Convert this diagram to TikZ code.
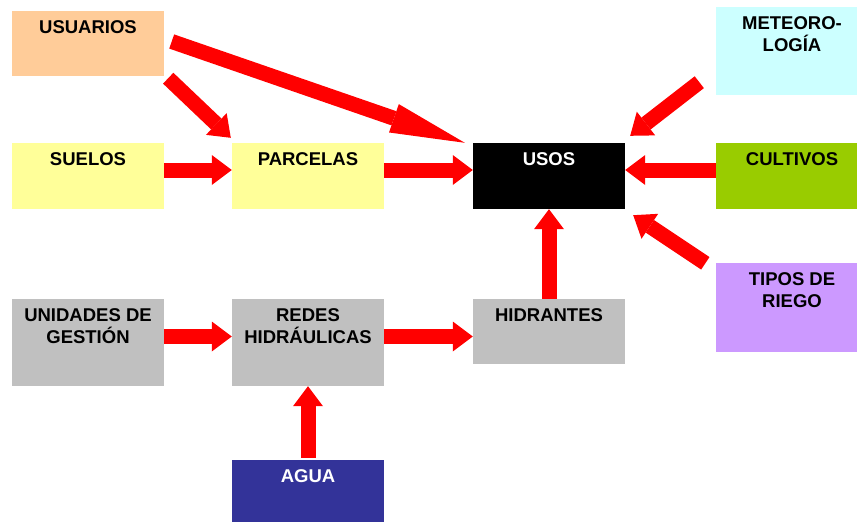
\documentclass[tikz,border=0pt]{standalone}
\usepackage{fontspec}
\setmainfont{Liberation Sans}
\usetikzlibrary{arrows.meta}
\definecolor{naranja}{HTML}{FFCC99}
\definecolor{amarillo}{HTML}{FFFF99}
\definecolor{celeste}{HTML}{CCFFFF}
\definecolor{verde}{HTML}{99CC00}
\definecolor{lila}{HTML}{CC99FF}
\definecolor{gris}{HTML}{C0C0C0}
\definecolor{azul}{HTML}{333399}
\definecolor{rojo}{HTML}{FF0000}
\tikzset{
  caja/.style={rectangle, inner sep=0pt, minimum width=152pt, minimum height=66pt},
  txt/.style={anchor=north, yshift=-10pt, inner sep=0pt, align=center,
    font=\fontsize{18.5}{22}\selectfont\bfseries},
  flecha/.style={draw=rojo, line width=15pt,
    -{Triangle[width=30pt,length=20pt,line width=0pt]}},
  flechalarga/.style={flecha, -{Triangle[width=30pt,length=75pt,line width=0pt]}}
}
\begin{document}
\begin{tikzpicture}[x=1pt,y=-1pt]
	\useasboundingbox (0,0) rectangle (857,522);
	\node[caja, fill=naranja, minimum height=65pt, label={[txt]north:USUARIOS}] (usuarios) at (88,43.5) {};
	\node[caja, fill=amarillo, label={[txt]north:SUELOS}] (suelos) at (88,176) {};
	\node[caja, fill=amarillo, label={[txt]north:PARCELAS}] (parcelas) at (308,176) {};
	\node[caja, fill=black, label={[txt, text=white]north:USOS}] (usos) at (549,176) {};
	\node[caja, fill=celeste, minimum height=88pt, label={[txt]north:METEORO-\\LOGÍA}] (meteo) at (792,51) {};
	\node[caja, fill=verde, label={[txt]north:CULTIVOS}] (cultivos) at (792,176) {};
	\node[caja, fill=lila, minimum height=89pt, label={[txt]north:TIPOS DE\\RIEGO}] (tipos) at (792,307.5) {};
	\node[caja, fill=gris, minimum height=87pt, label={[txt]north:UNIDADES DE\\GESTIÓN}] (unidades) at (88,342.5) {};
	\node[caja, fill=gris, minimum height=87pt, label={[txt]north:REDES\\HIDRÁULICAS}] (redes) at (308,342.5) {};
	\node[caja, fill=gris, minimum height=65pt, label={[txt]north:HIDRANTES}] (hidrantes) at (549,331.5) {};
	\node[caja, fill=azul, label={[txt, text=white]north:AGUA}] (agua) at (308,493) {};

	\foreach \a/\b in {suelos.east/parcelas.west,parcelas.east/usos.west,cultivos.west/usos.east,unidades.east/redes.west}{
		\draw[flecha] ([yshift=6pt]\a) -- ([yshift=6pt]\b);
	}
	\draw[flecha] ([yshift=6pt]redes.east) -- ([yshift=6pt]redes.east -| hidrantes.west);
	\draw[flecha] (hidrantes.north) -- (usos.south);
	\draw[flecha] ([yshift=2pt]agua.north) -- (redes.south);
	\draw[flechalarga] ([xshift=7.5pt,yshift=2pt]usuarios.east) -- ([xshift=-8pt]usos.north west);
	\draw[flecha] ([xshift=4pt,yshift=-2pt]usuarios.south east) -- ([xshift=-1pt,yshift=5pt]parcelas.north west);
	\draw[flecha] ([xshift=-16.5pt,yshift=13pt]meteo.south west) -- ([xshift=5pt,yshift=7pt]usos.north east);
	\draw[flecha] ([xshift=-10.5pt,yshift=-0.5pt]tipos.north west) -- ([xshift=8pt,yshift=-6pt]usos.south east);
\end{tikzpicture}
\end{document}
